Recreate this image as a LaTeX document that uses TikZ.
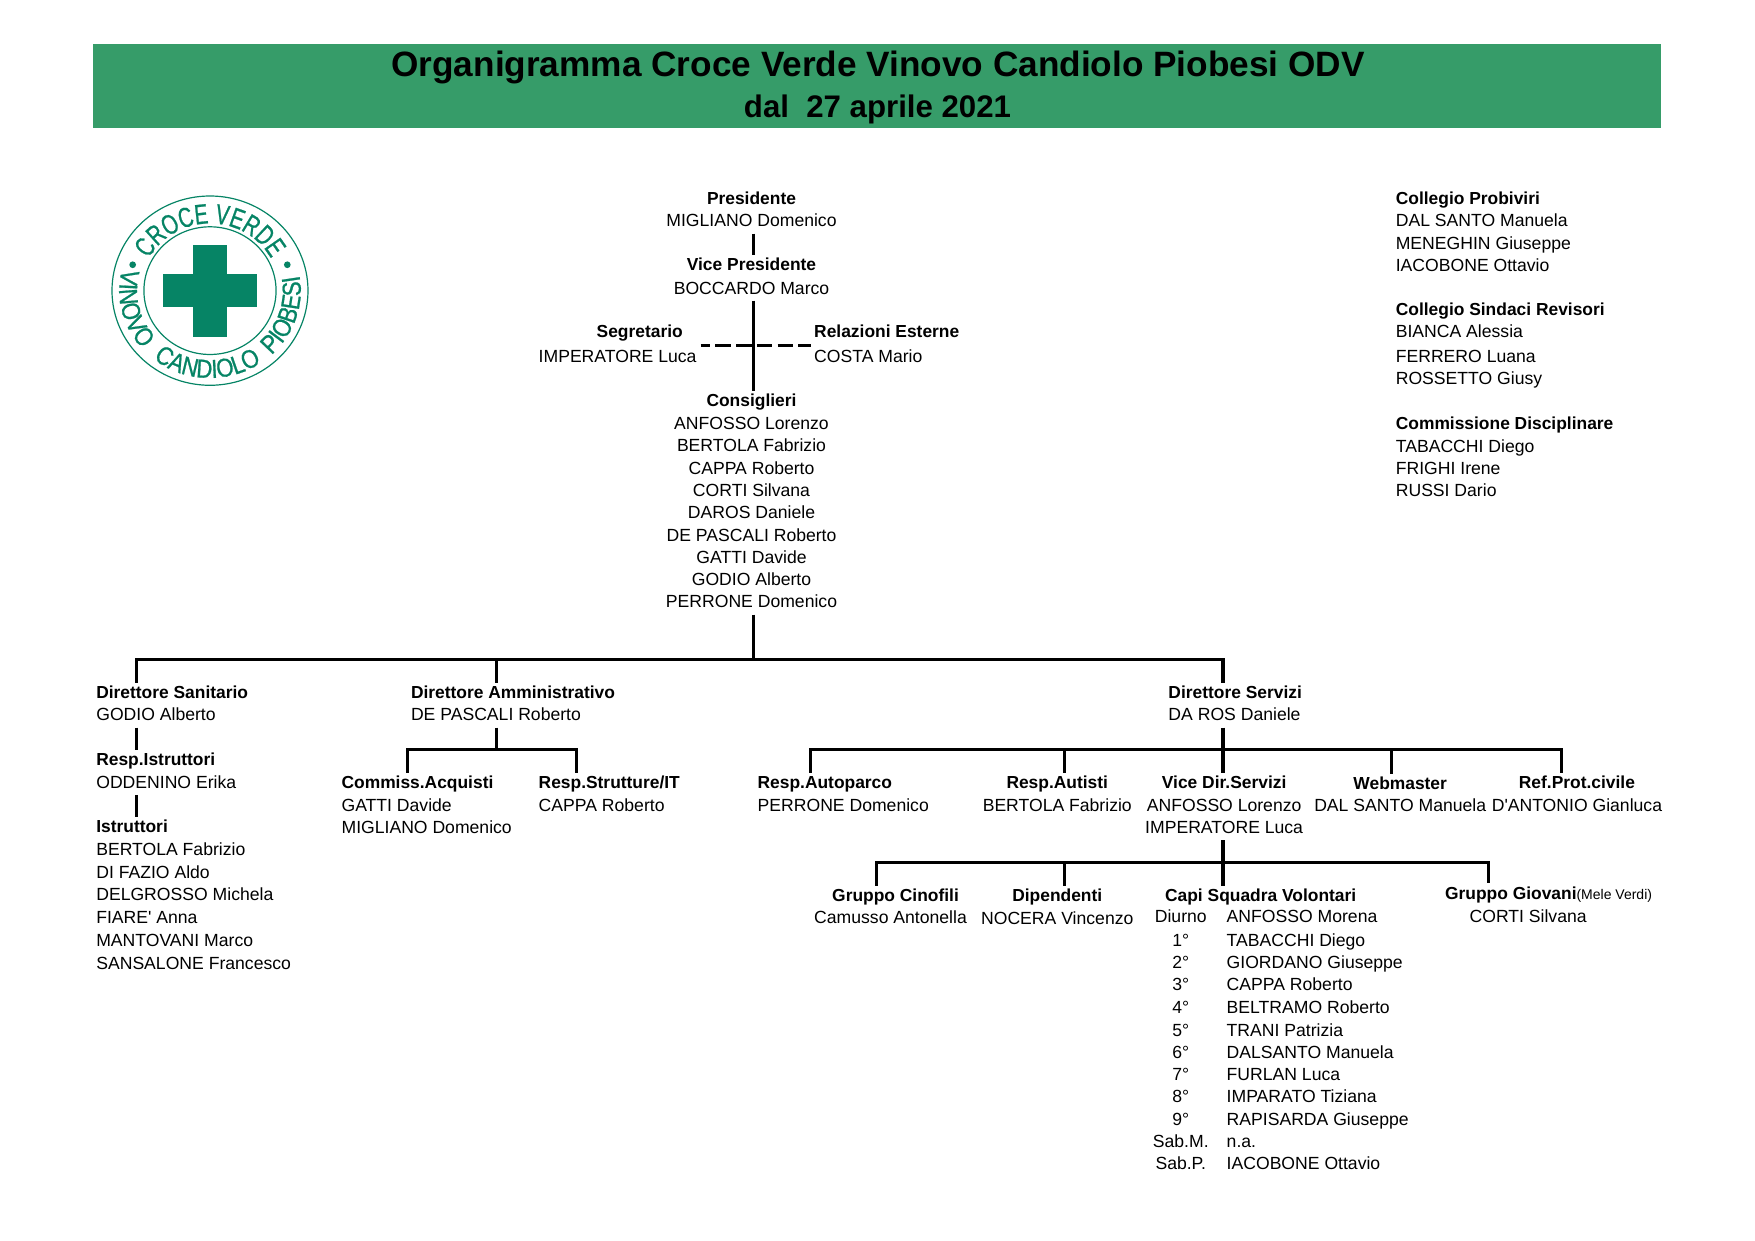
\documentclass[tikz,border=0pt]{standalone}
\usepackage{fontspec}
\setmainfont{Liberation Sans}[Ligatures=TeXOff]
\newfontfamily\logofont{Liberation Sans}[FakeStretch=0.72,FakeBold=0.8]
\newfontfamily\logofontb{Liberation Sans}[FakeStretch=0.85,FakeBold=0.8]
\usetikzlibrary{decorations.text}
\definecolor{banner}{HTML}{369C69}
\definecolor{logog}{HTML}{068465}
\newcommand\B[1]{{\fontsize{17.4}{22.3}\selectfont\bfseries #1}}
\tikzset{
  lbl/.style={inner sep=0pt,outer sep=0pt,font=\fontsize{17.6}{22.3}\selectfont,yshift=9.2pt},
  lw/.style={lbl,anchor=north west,align=left},
  lc/.style={lbl,anchor=north,align=center},
  conn/.style={draw=black,line width=3.2pt,line cap=butt,line join=miter},
  dashconn/.style={conn,dash pattern=on 15.5pt off 5.3pt,dash phase=6.2pt},
  ring/.style={draw=logog,line width=1.2pt},
  logotext/.style={decorate,decoration={text along path,text align=center,text color=logog}}
}
\begin{document}
\begin{tikzpicture}[x=1.12pt,y=-1.12pt]
\useasboundingbox (0,0) rectangle (1567,1108);
% banner
\fill[banner] (83,39) rectangle (1483.5,114);
\node[inner sep=0pt,anchor=base,font=\fontsize{35.2}{38}\selectfont\bfseries] (title) at (784,68) {Organigramma Croce Verde Vinovo Candiolo Piobesi ODV};
\node[inner sep=0pt,anchor=base,font=\fontsize{31.2}{34}\selectfont\bfseries] (subtitle) at (783.5,105) {dal\ \ 27 aprile 2021};
% logo
\begin{scope}[shift={(187.5,259.5)},x=1.12pt,y=1.12pt]
\draw[ring] (0,0) ellipse[x radius=87.5,y radius=84.5];
\draw[ring] (0,0) ellipse[x radius=59,y radius=57];
\fill[logog] (-15,41) rectangle (15,-41);
\fill[logog] (-42,14.5) rectangle (42,-14.5);
\fill[logog] (161:73 and 71) circle (3);
\fill[logog] (19:73 and 71) circle (3);
\path[logotext,decoration={text={|\logofont\fontsize{28}{30}\selectfont|CROCE VERDE}}]
  (175:62 and 60) arc[start angle=175,end angle=5,x radius=62,y radius=60];
\path[logotext,decoration={text={|\logofontb\fontsize{26}{28}\selectfont|VINOVO}}]
  (150:81 and 78) arc[start angle=150,end angle=237,x radius=81,y radius=78];
\path[logotext,decoration={text={|\logofontb\fontsize{26}{28}\selectfont|CANDIOLO}}]
  (212:81 and 78) arc[start angle=212,end angle=324,x radius=81,y radius=78];
\path[logotext,decoration={text={|\logofontb\fontsize{26}{28}\selectfont|PIOBESI}}]
  (299:81 and 78) arc[start angle=299,end angle=384,x radius=81,y radius=78];
\end{scope}
% top column
\node[lc] (pres) at (671,177) {\strut\B{Presidente}\\MIGLIANO Domenico\strut};
\node[lc] (vp) at (671,236) {\strut\B{Vice Presidente}\\[1pt]BOCCARDO Marco\strut};
\node[lw] (seg) at (481,296) {\strut\hspace*{58pt}\B{Segretario}\\[2pt]IMPERATORE Luca\strut};
\node[lw] (rel) at (727,296) {\strut\B{Relazioni Esterne}\\[2pt]COSTA Mario\strut};
\node[lc] (cons) at (671,357) {\strut\B{Consiglieri}\\[1pt]ANFOSSO Lorenzo\\BERTOLA Fabrizio\\CAPPA Roberto\\CORTI Silvana\\DAROS Daniele\\DE PASCALI Roberto\\GATTI Davide\\GODIO Alberto\\PERRONE Domenico\strut};
% right column
\node[lw] (prob) at (1246.3,177) {\strut\B{Collegio Probiviri}\\DAL SANTO Manuela\\MENEGHIN Giuseppe\\IACOBONE Ottavio\strut};
\node[lw] (sind) at (1246.3,276) {\strut\B{Collegio Sindaci Revisori}\\BIANCA Alessia\\[2pt]FERRERO Luana\\ROSSETTO Giusy\strut};
\node[lw] (disc) at (1246.3,378) {\strut\B{Commissione Disciplinare}\\TABACCHI Diego\\FRIGHI Irene\\RUSSI Dario\strut};
% directors
\node[lw] (dsan) at (86,618) {\strut\B{Direttore Sanitario}\\GODIO Alberto\strut};
\node[lw] (ristr) at (86,678) {\strut\B{Resp.Istruttori}\\ODDENINO Erika\strut};
\node[lw] (istr) at (86,738) {\strut\B{Istruttori}\\BERTOLA Fabrizio\\[1pt]DI FAZIO Aldo\\DELGROSSO Michela\\FIARE' Anna\\[1.5pt]MANTOVANI Marco\\SANSALONE Francesco\strut};
\node[lw] (damm) at (367,618) {\strut\B{Direttore Amministrativo}\\DE PASCALI Roberto\strut};
\node[lw] (acq) at (305,698) {\strut\B{Commiss.Acquisti}\\[1pt]GATTI Davide\\MIGLIANO Domenico\strut};
\node[lw] (strut) at (481,698) {\strut\B{Resp.Strutture/IT}\\[1pt]CAPPA Roberto\strut};
\node[lw] (dserv) at (1043.3,618) {\strut\B{Direttore Servizi}\\DA ROS Daniele\strut};
\node[lw] (park) at (676.5,698) {\strut\B{Resp.Autoparco}\\[1pt]PERRONE Domenico\strut};
\node[lc] (aut) at (944,698) {\strut\B{Resp.Autisti}\\[1pt]BERTOLA Fabrizio\strut};
\node[lc] (vds) at (1093,698) {\strut\B{Vice Dir.Servizi}\\[1pt]ANFOSSO Lorenzo\\IMPERATORE Luca\strut};
\node[lc] (web) at (1250.2,699) {\strut\B{Webmaster}\\DAL SANTO Manuela\strut};
\node[lc] (prot) at (1408,698) {\strut\B{Ref.Prot.civile}\\[1pt]D'ANTONIO Gianluca\strut};
\node[lw] (cin) at (727,799) {\strut\hspace*{18pt}\B{Gruppo Cinofili}\\Camusso Antonella\strut};
\node[lc] (dip) at (944,799) {\strut\B{Dipendenti}\\[1pt]NOCERA Vincenzo\strut};
\node[lw] (capi) at (1040.3,799) {\strut\B{Capi Squadra Volontari}\strut};
\node[lc] (turni) at (1054.3,818) {\strut Diurno\\[1.5pt]1°\\2°\\3°\\[0.5pt]4°\\5°\\6°\\7°\\8°\\9°\\Sab.M.\\Sab.P.\strut};
\node[lw] (nomi) at (1095.3,818) {\strut ANFOSSO Morena\\[1.5pt]TABACCHI Diego\\GIORDANO Giuseppe\\CAPPA Roberto\\[0.5pt]BELTRAMO Roberto\\TRANI Patrizia\\DALSANTO Manuela\\FURLAN Luca\\IMPARATO Tiziana\\RAPISARDA Giuseppe\\n.a.\\IACOBONE Ottavio\strut};
\node[lw] (giov) at (1290.3,797) {\strut\B{Gruppo Giovani}{\fontsize{14}{16}\selectfont(Mele Verdi)}\\[1.5pt]\hspace*{24.5pt}CORTI Silvana\strut};
% connector columns
\coordinate (spine) at (673,0);
\coordinate (xsan) at (121.7,0);
\coordinate (xamm) at (443.3,0);
\coordinate (xserv) at (1092,0);
\coordinate (xacq) at (364,0);
\coordinate (xstr) at (515,0);
\coordinate (xpark) at (724,0);
\coordinate (xaut) at (950.3,0);
\coordinate (xweb) at (1242.3,0);
\coordinate (xprot) at (1394.3,0);
\coordinate (xcin) at (782.3,0);
\coordinate (xgio) at (1329.3,0);
\coordinate (bus1) at (0,589);
\coordinate (bus2) at (0,669);
\coordinate (bus3) at (0,770);
\coordinate (dashy) at (0,308.5);
\coordinate (dashl) at (625.6,0);
\coordinate (dashr) at (723.8,0);
% connectors
\draw[conn] (pres.south -| spine) -- (vp.north -| spine);
\draw[conn] (vp.south -| spine) -- (cons.north -| spine);
\draw[dashconn] (dashl |- dashy) -- (dashr |- dashy);
\draw[conn] (cons.south -| spine) -- (bus1 -| spine);
\draw[conn] (dsan.north -| xsan) -- (bus1 -| xsan) -- (bus1 -| xserv) -- (dserv.north -| xserv);
\draw[conn] (bus1 -| xamm) -- (damm.north -| xamm);
\draw[conn] (dsan.south -| xsan) -- (ristr.north -| xsan);
\draw[conn] (ristr.south -| xsan) -- (istr.north -| xsan);
\draw[conn] (damm.south -| xamm) -- (bus2 -| xamm);
\draw[conn] (acq.north -| xacq) -- (bus2 -| xacq) -- (bus2 -| xstr) -- (strut.north -| xstr);
\draw[conn] (dserv.south -| xserv) -- (vds.north -| xserv);
\draw[conn] (park.north -| xpark) -- (bus2 -| xpark) -- (bus2 -| xprot) -- (prot.north -| xprot);
\draw[conn] (bus2 -| xaut) -- (aut.north -| xaut);
\draw[conn] (bus2 -| xweb) -- (web.north -| xweb);
\draw[conn] (vds.south -| xserv) -- (capi.north -| xserv);
\draw[conn] (cin.north -| xcin) -- (bus3 -| xcin) -- (bus3 -| xgio) -- (giov.north -| xgio);
\draw[conn] (bus3 -| xaut) -- (dip.north -| xaut);
\end{tikzpicture}
\end{document}
